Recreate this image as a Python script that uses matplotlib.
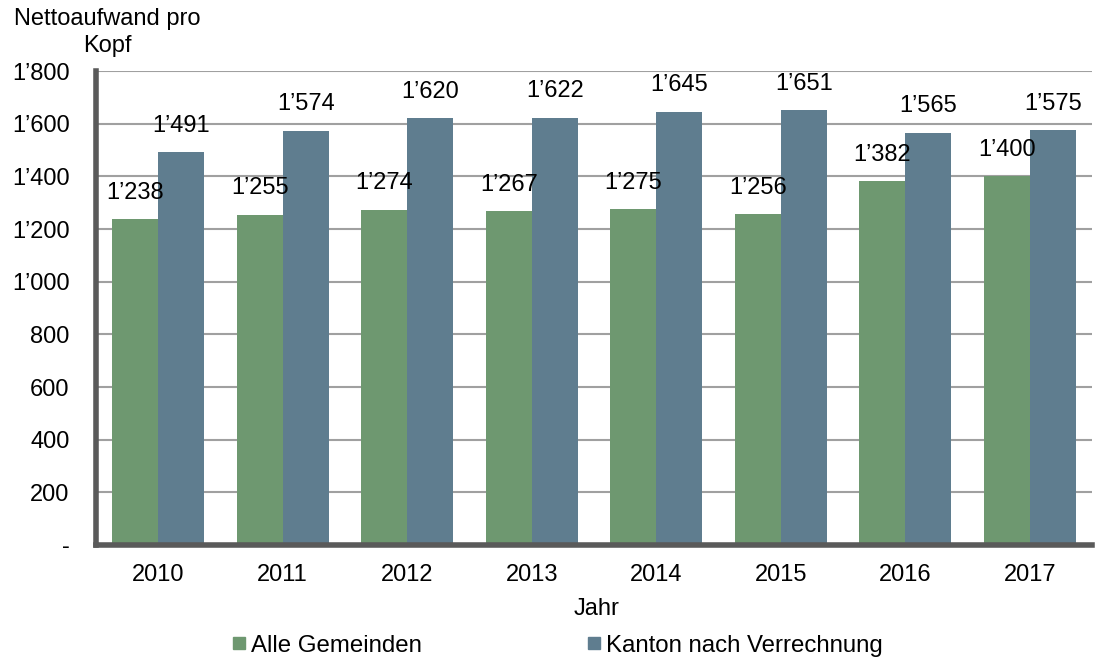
import matplotlib
matplotlib.use("Agg")
import matplotlib.pyplot as plt
import numpy as np
from matplotlib.ticker import FuncFormatter
from matplotlib.patches import Rectangle

plt.rcParams['font.family'] = ['Liberation Sans', 'DejaVu Sans']

years = ["2010", "2011", "2012", "2013", "2014", "2015", "2016", "2017"]
gemeinden = [1238, 1255, 1274, 1267, 1275, 1256, 1382, 1400]
kanton = [1491, 1574, 1620, 1622, 1645, 1651, 1565, 1575]
series_names = ["Alle Gemeinden", "Kanton nach Verrechnung"]

c_green = "#6E9870"
c_blue = "#5F7D8F"
FS = 17

fig = plt.figure(figsize=(10.98, 6.66), dpi=100)
ax = fig.add_axes([96/1098, 1-545/666, (1092-96)/1098, (545-71)/666])

x = np.arange(len(years))
w = 0.37
b1 = ax.bar(x - w/2, gemeinden, w, color=c_green, label=series_names[0], zorder=3)
b2 = ax.bar(x + w/2, kanton, w, color=c_blue, label=series_names[1], zorder=3)

def fmt(v):
    return f"{int(round(v)):,}".replace(",", "\u2019")

for bars, vals in ((b1, gemeinden), (b2, kanton)):
    for r, v in zip(bars, vals):
        ax.annotate(fmt(v), (r.get_x() + r.get_width()/2, v), xytext=(0, 19),
                    textcoords="offset points", ha="center", va="center",
                    fontsize=FS, color="black", zorder=4)

ax.set_xlim(-0.5, len(years) - 0.5)
ax.set_ylim(0, 1800)
ax.set_yticks(np.arange(0, 1801, 200))
ax.yaxis.set_major_formatter(FuncFormatter(lambda v, p: "-" if v == 0 else fmt(v)))
ax.set_xticks(x)
ax.set_xticklabels(years)
ax.tick_params(axis='both', length=0, labelsize=FS)
ax.tick_params(axis='x', pad=14)
ax.tick_params(axis='y', pad=19)

ax.grid(axis='y', color="#A0A0A0", linewidth=1.5, zorder=0)
ax.set_axisbelow(True)
for s in ("top", "right"):
    ax.spines[s].set_visible(False)
for s in ("left", "bottom"):
    ax.spines[s].set_color("#5A5A5A")
    ax.spines[s].set_linewidth(4)
    ax.spines[s].set_zorder(5)

fig.text(107/1098, 1-19/666, "Nettoaufwand pro", ha="center", va="center", fontsize=FS)
fig.text(107/1098, 1-46/666, "Kopf", ha="center", va="center", fontsize=FS)
fig.text(597/1098, 1-609/666, "Jahr", ha="center", va="center", fontsize=FS)

leg_items = [(239, c_green, series_names[0]), (594, c_blue, series_names[1])]
for xp, col, name in leg_items:
    fig.patches.append(Rectangle(((xp - 6)/1098, 1-649/666), 12/1098, 12/666,
                                 transform=fig.transFigure, color=col))
    fig.text((xp + 12)/1098, 1-646/666, name, ha="left", va="center", fontsize=17.3)

fig.savefig("out.png", dpi=100)
